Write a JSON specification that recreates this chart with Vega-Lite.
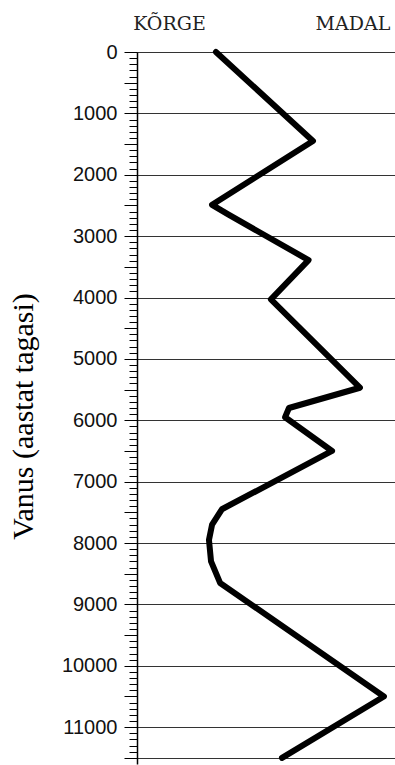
{
  "$schema": "https://vega.github.io/schema/vega-lite/v6.json",
  "width": 258,
  "height": 712,
  "autosize": {"type": "none"},
  "padding": {"left": 137, "top": 52, "right": 0, "bottom": 1},
  "background": "white",
  "config": {"view": {"stroke": null}},
  "data": {
    "values": [
      {"age": 0, "x": 30.6},
      {"age": 1450, "x": 68.2},
      {"age": 2490, "x": 29.1},
      {"age": 2650, "x": 35.5},
      {"age": 3390, "x": 66.5},
      {"age": 4030, "x": 51.9},
      {"age": 5470, "x": 86.4},
      {"age": 5800, "x": 58.9},
      {"age": 5950, "x": 57.4},
      {"age": 6500, "x": 75.6},
      {"age": 7450, "x": 32.9},
      {"age": 7700, "x": 29.1},
      {"age": 7950, "x": 27.9},
      {"age": 8300, "x": 28.7},
      {"age": 8650, "x": 32.2},
      {"age": 10500, "x": 95.7},
      {"age": 11500, "x": 56.2}
    ]
  },
  "layer": [
    {
      "mark": {"type": "line", "color": "black", "strokeWidth": 6, "strokeJoin": "round", "strokeCap": "round", "clip": false},
      "encoding": {
        "x": {
          "field": "x", "type": "quantitative",
          "scale": {"domain": [0, 100], "nice": false, "zero": false},
          "axis": {
            "orient": "top", "values": [12.4, 83.5],
            "labelExpr": "datum.value < 50 ? 'KÕRGE' : 'MADAL'",
            "ticks": false, "domain": false, "grid": false, "title": null,
            "labelFont": "DejaVu Serif", "labelFontSize": 19, "labelPadding": 19,
            "labelColor": "#222", "labelFlush": false, "labelOverlap": false
          }
        },
        "y": {
          "field": "age", "type": "quantitative",
          "scale": {"domain": [0, 11600], "reverse": true, "nice": false, "zero": false},
          "axis": {
            "orient": "left",
            "values": [0, 1000, 2000, 3000, 4000, 5000, 6000, 7000, 8000, 9000, 10000, 11000],
            "format": "d",
            "tickSize": 13, "tickColor": "black", "tickWidth": 1,
            "grid": true, "gridColor": "#333", "gridWidth": 1, "gridOpacity": 1,
            "domain": true, "domainColor": "black", "domainWidth": 1.5,
            "labelFont": "Liberation Sans", "labelFontSize": 20, "labelColor": "#111",
            "labelPadding": 7, "labelFlush": false, "labelOverlap": false,
            "title": "Vanus (aastat tagasi)",
            "titleFont": "Liberation Serif", "titleFontSize": 30, "titleFontWeight": "normal",
            "titleColor": "black", "titleX": -114, "titleY": 364,
            "titleBaseline": "middle", "titleAlign": "center", "titleAngle": -90
          }
        },
        "order": {"field": "age", "type": "quantitative"}
      }
    },
    {
      "mark": {"type": "line", "opacity": 0},
      "encoding": {
        "y": {
          "field": "age", "type": "quantitative",
          "axis": {
            "orient": "left",
            "values": [0,100,200,300,400,500,600,700,800,900,1000,1100,1200,1300,1400,1500,1600,1700,1800,1900,2000,2100,2200,2300,2400,2500,2600,2700,2800,2900,3000,3100,3200,3300,3400,3500,3600,3700,3800,3900,4000,4100,4200,4300,4400,4500,4600,4700,4800,4900,5000,5100,5200,5300,5400,5500,5600,5700,5800,5900,6000,6100,6200,6300,6400,6500,6600,6700,6800,6900,7000,7100,7200,7300,7400,7500,7600,7700,7800,7900,8000,8100,8200,8300,8400,8500,8600,8700,8800,8900,9000,9100,9200,9300,9400,9500,9600,9700,9800,9900,10000,10100,10200,10300,10400,10500,10600,10700,10800,10900,11000,11100,11200,11300,11400,11500],
            "tickSize": 8, "tickColor": "black", "tickWidth": 1,
            "labels": false, "grid": false, "domain": false, "title": null
          }
        },
        "order": {"field": "age", "type": "quantitative"}
      }
    },
    {
      "mark": {"type": "line", "opacity": 0},
      "encoding": {
        "y": {
          "field": "age", "type": "quantitative",
          "axis": {
            "orient": "left",
            "values": [500, 1500, 2500, 3500, 4500, 5500, 6500, 7500, 8500, 9500, 10500],
            "tickSize": 13, "tickColor": "black", "tickWidth": 1,
            "labels": false, "grid": false, "domain": false, "title": null
          }
        },
        "order": {"field": "age", "type": "quantitative"}
      }
    },
    {
      "mark": {"type": "line", "opacity": 0},
      "encoding": {
        "y": {
          "field": "age", "type": "quantitative",
          "axis": {
            "orient": "left",
            "values": [11500],
            "tickSize": 13, "tickColor": "black", "tickWidth": 1,
            "grid": true, "gridColor": "#333", "gridWidth": 1, "gridOpacity": 1,
            "labels": false, "domain": false, "title": null
          }
        },
        "order": {"field": "age", "type": "quantitative"}
      }
    }
  ],
  "resolve": {"axis": {"y": "independent"}}
}
